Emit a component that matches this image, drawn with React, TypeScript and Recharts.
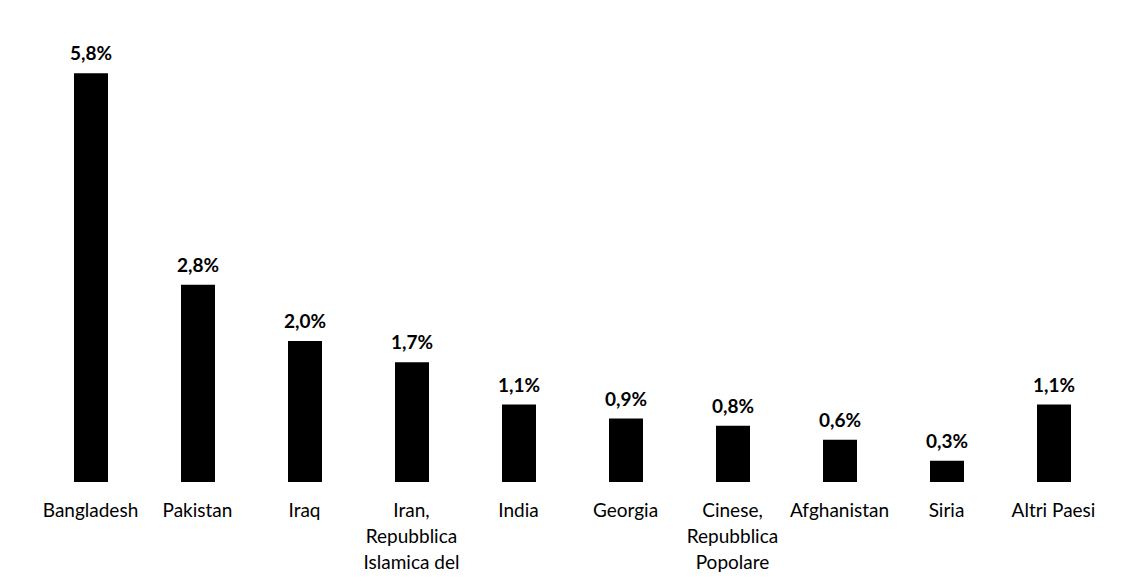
import { Bar, BarChart, LabelList, XAxis, YAxis } from "recharts";

const countries = [
  "Bangladesh",
  "Pakistan",
  "Iraq",
  "Iran,\nRepubblica\nIslamica del",
  "India",
  "Georgia",
  "Cinese,\nRepubblica\nPopolare",
  "Afghanistan",
  "Siria",
  "Altri Paesi",
];
const shares = [5.8, 2.8, 2.0, 1.7, 1.1, 0.9, 0.8, 0.6, 0.3, 1.1];

const data = countries.map((name, i) => ({ name, value: shares[i] }));

const FONT = "Lato, 'Open Sans', sans-serif";

function CountryTick({ x, y, payload }: any) {
  const lines = String(payload.value).split("\n");
  return (
    <text x={x} y={y} textAnchor="middle" fontFamily={FONT} fontSize={19} fill="#000">
      {lines.map((line, i) => (
        <tspan key={i} x={x} dy={i === 0 ? 27 : 26}>
          {line}
        </tspan>
      ))}
    </text>
  );
}

const pct = (v: any) => Number(v).toFixed(1).replace(".", ",") + "%";

export default function App() {
  return (
    <div style={{ position: "absolute", left: 0, top: 0, background: "#fff" }}>
      <BarChart
        width={1129}
        height={587}
        data={data}
        margin={{ top: 17, right: 22, left: 37, bottom: 0 }}
      >
        <XAxis
          dataKey="name"
          height={105}
          axisLine={false}
          tickLine={false}
          interval={0}
          tick={<CountryTick />}
        />
        <YAxis hide domain={[0, 6.6]} />
        <Bar dataKey="value" fill="#000" barSize={34} isAnimationActive={false}>
          <LabelList
            dataKey="value"
            position="top"
            offset={13}
            formatter={pct}
            style={{ fontFamily: FONT, fontSize: 19, fontWeight: 700, fill: "#000" }}
          />
        </Bar>
      </BarChart>
    </div>
  );
}
